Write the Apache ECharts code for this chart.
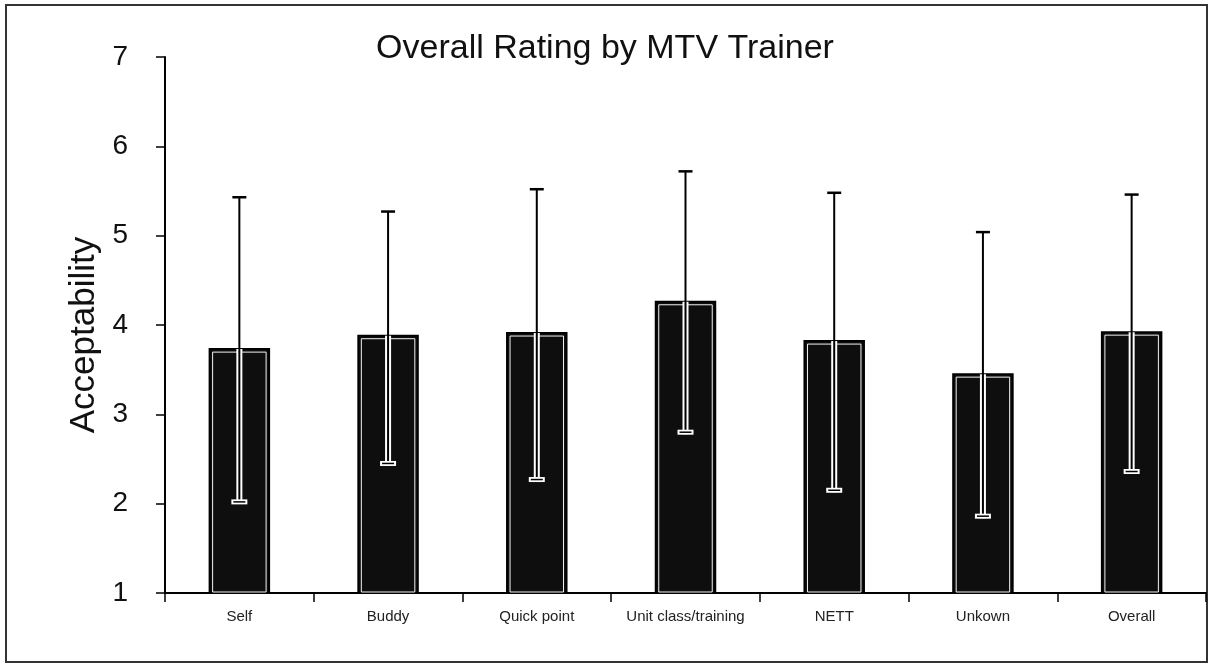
<!DOCTYPE html>
<html>
<head>
<meta charset="utf-8">
<script src="https://cdn.jsdelivr.net/npm/echarts@6/dist/echarts.min.js"></script>
<style>
  html, body { margin: 0; padding: 0; background: #fff; }
  #chart { width: 1210px; height: 670px; }
</style>
</head>
<body>
<div id="chart"></div>
<script>
// Données
const categories = ["Self", "Buddy", "Quick point", "Unit class/training", "NETT", "Unkown", "Overall"];
const means = [3.73, 3.88, 3.91, 4.26, 3.82, 3.45, 3.92];
const lows = [2.02, 2.45, 2.27, 2.80, 2.15, 1.86, 2.36];
const highs = [5.43, 5.27, 5.52, 5.72, 5.48, 5.04, 5.46];

const font = 'Arial, "Liberation Sans", sans-serif';

// Barre + barre d'erreur dessinées via les échelles de l'axe
function renderBar(params, api) {
  const i = api.value(0);
  const base = api.coord([i, 1]);
  const top = api.coord([i, api.value(1)]);
  const pLo = api.coord([i, api.value(2)]);
  const pHi = api.coord([i, api.value(3)]);
  const bw = api.size([1, 0])[0] * 0.4;
  const cx = base[0];
  return {
    type: "group",
    children: [
      {
        type: "rect",
        shape: { x: cx - bw / 2, y: top[1], width: bw, height: base[1] - top[1] },
        style: { fill: "#0e0e0e", stroke: "#000", lineWidth: 2 }
      },
      {
        type: "rect",
        shape: { x: cx - bw / 2 + 3, y: top[1] + 3, width: bw - 6, height: base[1] - top[1] - 4 },
        style: { fill: null, stroke: "#f2f2f2", lineWidth: 1 }
      },
      {
        type: "line",
        shape: { x1: cx, y1: pLo[1] + 2, x2: cx, y2: top[1] },
        style: { stroke: "#fff", lineWidth: 6 }
      },
      {
        type: "line",
        shape: { x1: cx, y1: pLo[1], x2: cx, y2: pHi[1] },
        style: { stroke: "#000", lineWidth: 2 }
      },
      {
        type: "line",
        shape: { x1: cx - 7, y1: pHi[1], x2: cx + 7, y2: pHi[1] },
        style: { stroke: "#000", lineWidth: 2.5 }
      },
      {
        type: "line",
        shape: { x1: cx - 8, y1: pLo[1], x2: cx + 8, y2: pLo[1] },
        style: { stroke: "#fff", lineWidth: 5 }
      },
      {
        type: "line",
        shape: { x1: cx - 6, y1: pLo[1], x2: cx + 6, y2: pLo[1] },
        style: { stroke: "#000", lineWidth: 1.5 }
      }
    ]
  };
}

document.addEventListener("DOMContentLoaded", () => {
  const chart = echarts.init(document.getElementById("chart"));
  const option = {
    backgroundColor: "#fff",
    animation: false,
    textStyle: { fontFamily: font },
    title: {
      text: "Overall Rating by MTV Trainer",
      left: "center",
      top: 27,
      textStyle: { fontSize: 34, fontWeight: "normal", color: "#111", fontFamily: font }
    },
    graphic: [{
      type: "rect",
      z: -1,
      shape: { x: 6, y: 5, width: 1201, height: 657 },
      style: { fill: null, stroke: "#333", lineWidth: 2 }
    }],
    grid: { left: 165, right: 4, top: 57, bottom: 77 },
    xAxis: {
      type: "category",
      data: categories,
      boundaryGap: true,
      axisLine: { lineStyle: { color: "#000", width: 2 } },
      axisTick: { show: true, alignWithLabel: false, interval: 0, length: 9, lineStyle: { color: "#000", width: 1.5 } },
      axisLabel: { interval: 0, margin: 16, fontSize: 15, color: "#222", fontFamily: font }
    },
    yAxis: {
      type: "value",
      min: 1,
      max: 7,
      interval: 1,
      name: "Acceptability",
      nameLocation: "middle",
      nameGap: 58,
      nameTextStyle: { fontSize: 35, color: "#111", fontFamily: font, padding: [0, 20, 0, 0] },
      splitLine: { show: false },
      axisLine: { show: true, lineStyle: { color: "#000", width: 2 } },
      axisTick: { show: true, length: 9, lineStyle: { color: "#000", width: 1.5 } },
      axisLabel: { margin: 37, fontSize: 28, color: "#111", fontFamily: font }
    },
    series: [{
      type: "custom",
      renderItem: renderBar,
      encode: { x: 0, y: [1, 2, 3] },
      data: categories.map((c, i) => [i, means[i], lows[i], highs[i]])
    }]
  };
  chart.setOption(option);
});
</script>
</body>
</html>
